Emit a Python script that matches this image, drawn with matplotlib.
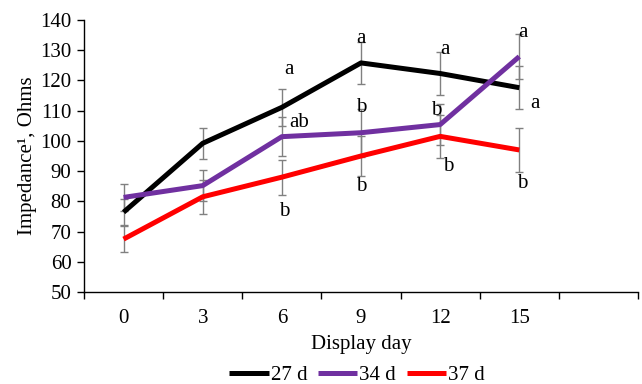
import numpy as np
import matplotlib
matplotlib.use("Agg")
import matplotlib.pyplot as plt

plt.rcParams["font.family"] = ["Liberation Serif", "DejaVu Serif"]

# display days and series values (Ohms)
days = ["0", "3", "6", "9", "12", "15"]
series_names = ["27 d", "34 d", "37 d"]
imp_27 = [76.4, 99.2, 111.1, 125.8, 122.3, 117.6]
imp_34 = [81.3, 85.2, 101.4, 102.7, 105.4, 127.9]
imp_37 = [67.5, 81.5, 88.0, 95.0, 101.5, 97.0]
err_27 = [4.3, 5.2, 6.2, 7.0, 7.0, 7.1]
err_34 = [4.6, 5.2, 6.5, 8.0, 6.9, 7.4]
err_37 = [4.4, 5.6, 5.8, 6.6, 7.0, 7.2]
colors = ["#000000", "#7030A0", "#FF0000"]

# significance letters: (text, category position, value)
letters = [
    ("a", 2.09, 123.5), ("ab", 2.22, 106.2), ("b", 2.03, 76.5),
    ("a", 3.0, 134.0), ("b", 3.0, 111.2), ("b", 3.0, 84.8),
    ("a", 4.06, 130.1), ("b", 3.95, 110.2), ("b", 4.1, 91.4),
    ("a", 5.04, 136.0), ("a", 5.2, 112.5), ("b", 5.04, 86.0),
]

fig = plt.figure(figsize=(6.42, 3.84), dpi=100)
ax = fig.add_axes([84 / 642, 1 - 292 / 384, (638 - 84) / 642, (292 - 20) / 384])

x = np.arange(len(days))
for vals, errs, col, name in zip([imp_27, imp_34, imp_37], [err_27, err_34, err_37], colors, series_names):
    ax.errorbar(x, vals, yerr=errs, fmt="none", ecolor="#808080", elinewidth=1,
                capsize=2.6, capthick=1, zorder=2)
    ax.plot(x, vals, color=col, lw=3.6, label=name, zorder=3, solid_capstyle="butt")

for txt, xp, yp in letters:
    ax.text(xp, yp, txt, ha="center", va="center", fontsize=15, zorder=4)

ax.set_xlim(-0.5, 6.5)
ax.set_ylim(50, 140)
ax.set_yticks(np.arange(50, 141, 10))
ax.set_xticks(np.arange(-0.5, 6.6, 1))
ax.set_xticklabels([])
ax.set_xticks(x, minor=True)
ax.set_xticklabels(days, minor=True)
ax.tick_params(axis="x", which="major", direction="out", length=5, width=1)
ax.tick_params(axis="x", which="minor", length=0, pad=12, labelsize=15)
ax.tick_params(axis="y", direction="out", length=5, width=1, labelsize=15, pad=4)

for side in ["top", "right"]:
    ax.spines[side].set_visible(False)
for side in ["left", "bottom"]:
    ax.spines[side].set_linewidth(1)

ax.set_xlabel("Display day", fontsize=15, labelpad=5)
ax.set_ylabel("Impedance\u00b9, Ohms", fontsize=15, labelpad=2)

fig.legend(loc="center", bbox_to_anchor=(357 / 642, 1 - 375 / 384), ncol=3, frameon=False,
           fontsize=15, handlelength=1.9, handletextpad=0.1, columnspacing=0.5)

fig.savefig("out.png", dpi=100)
